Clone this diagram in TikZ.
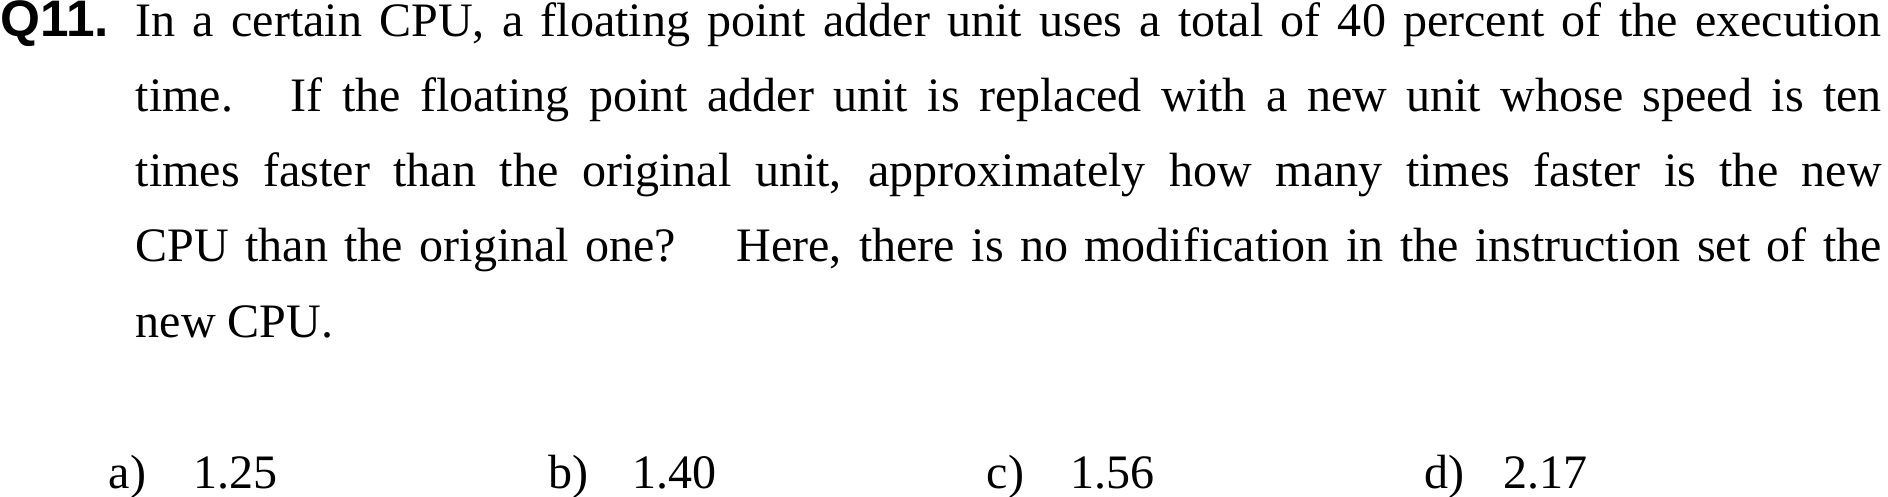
\documentclass[tikz,border=0pt]{standalone}
\usepackage{fontspec}
\setmainfont{Liberation Serif}
\newfontfamily\qfont{Liberation Sans}
\usepackage{tikz}
\usetikzlibrary{positioning}
\tikzset{main text/.style={inner sep=0pt,anchor=base west,font=\fontsize{13.66pt}{21.4pt}\selectfont},
         question/.style={main text,font=\fontsize{14.6pt}{21.4pt}\selectfont\qfont\bfseries},
         stem/.style={main text,text width=17.45cm,align=justify}}

\begin{document}
\begin{tikzpicture}[x=0.01cm,y=-0.01cm]
    	\useasboundingbox (0,0) rectangle (1888,496);
    	\node[question] (q) at (0,36) {Q11.};
    	\node[stem] (s) at (135,36) {\hyphenpenalty=10000\tolerance=10000%
    		In a certain CPU, a floating point adder unit uses a total of 40 percent of the execution\linebreak
    		time. \hspace{0.4em}If the floating point adder unit is replaced with a new unit whose speed is ten\linebreak
    		times faster than the original unit, approximately how many times faster is the new\linebreak
    		CPU than the original one? \hspace{0.65em}Here, there is no modification in the instruction set of the\linebreak
    		new CPU.};
    
    	\node[main text] (a_{1}) at (108,488) {a)};
    	\node[main text] (a_{2}) at (193,488) {1.25};
    	\node[main text] (b_{1}) at (548,488) {b)};
    	\node[main text] (b_{2}) at (632,488) {1.40};
    	\node[main text] (c_{1}) at (986,488) {c)};
    	\node[main text] (c_{2}) at (1070,488) {1.56};
    	\node[main text] (d_{1}) at (1424,488) {d)};
    	\node[main text] (d_{2}) at (1503,488) {2.17};
    \end{tikzpicture}
\end{document}
